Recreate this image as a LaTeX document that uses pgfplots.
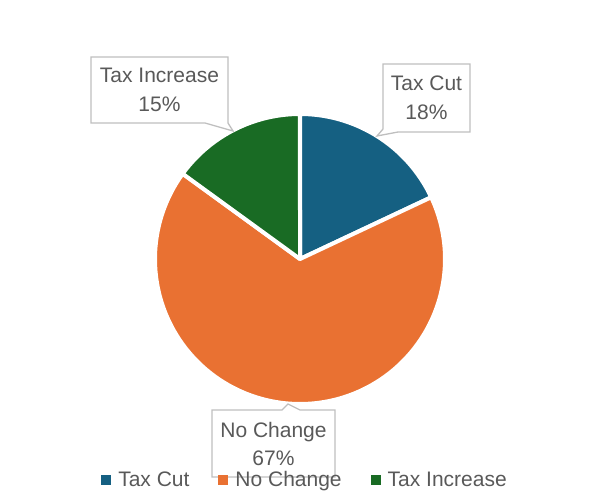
\documentclass[border=0pt]{standalone}
\usepackage{pgfplots}
\pgfplotsset{compat=1.18}
\usepackage{pgfplotstable}
\usepackage{fontspec}
\setmainfont{Liberation Sans}
\definecolor{cutblue}{HTML}{156082}
\definecolor{nochg}{HTML}{E97132}
\definecolor{incgreen}{HTML}{196B24}
\definecolor{txt}{HTML}{595959}
\definecolor{boxline}{HTML}{BFBFBF}

\pgfplotstableread{
label value
TaxCut 18
NoChange 67
TaxIncrease 15
}\piedata

\begin{document}
\begin{tikzpicture}
\pgfplotstablegetelem{0}{value}\of\piedata \pgfmathsetmacro\vA{\pgfplotsretval}
\pgfplotstablegetelem{1}{value}\of\piedata \pgfmathsetmacro\vB{\pgfplotsretval}
\pgfplotstablegetelem{2}{value}\of\piedata \pgfmathsetmacro\vC{\pgfplotsretval}
\pgfmathsetmacro\tot{\vA+\vB+\vC}
\pgfmathsetmacro\aZero{90}
\pgfmathsetmacro\aOne{90-\vA/\tot*360}
\pgfmathsetmacro\aTwo{\aOne-\vB/\tot*360}
\pgfmathsetmacro\aThree{\aTwo-\vC/\tot*360}
\def\R{145}
\begin{axis}[
  x=1pt, y=1pt,
  xmin=-300, xmax=295, ymin=-232, ymax=259,
  hide axis, clip=false,
  legend image code/.code={\fill[#1,draw=none] (0pt,-5pt) rectangle (10pt,5pt);},
  legend columns=3,
  legend style={draw=none, fill=none, font=\fontsize{21}{24}\selectfont, text=txt,
    at={(axis cs:5,-221)}, anchor=center, inner sep=0pt,
    /tikz/every even column/.append style={column sep=27pt},
    /tikz/every odd column/.append style={column sep=5pt}},
]
\addplot[fill=cutblue, draw=white, line width=4pt, line join=round,
  domain=\aOne:\aZero, samples=90, variable=\t]
  ({\R*cos(\t)},{\R*sin(\t)}) -- (0,0) -- cycle;
\addlegendentry{Tax Cut}
\addplot[fill=nochg, draw=white, line width=4pt, line join=round,
  domain=\aTwo:\aOne, samples=200, variable=\t]
  ({\R*cos(\t)},{\R*sin(\t)}) -- (0,0) -- cycle;
\addlegendentry{No Change}
\addplot[fill=incgreen, draw=white, line width=4pt, line join=round,
  domain=\aThree:\aTwo, samples=80, variable=\t]
  ({\R*cos(\t)},{\R*sin(\t)}) -- (0,0) -- cycle;
\addlegendentry{Tax Increase}

% callouts
\draw[boxline, line width=1.3pt, fill=white, line join=miter]
  (-209,202) -- (-72,202) -- (-72,136) -- (-67,128) -- (-95,136) -- (-209,136) -- cycle;
\node[align=center, text=txt, font=\fontsize{21}{29}\selectfont] at (-140.5,169) {Tax Increase\\15\%};

\draw[boxline, line width=1.3pt, fill=white, line join=miter]
  (83,195) -- (170,195) -- (170,127) -- (98,127) -- (77,123) -- (83,130) -- cycle;
\node[align=center, text=txt, font=\fontsize{21}{29}\selectfont] at (126.5,161) {Tax Cut\\18\%};

\draw[boxline, line width=1.3pt, fill=white, line join=miter]
  (-88,-151) -- (-18,-151) -- (-12,-145) -- (0,-151) -- (35,-151) -- (35,-218) -- (-88,-218) -- cycle;
\node[align=center, text=txt, font=\fontsize{21}{28}\selectfont] at (-26.5,-184.5) {No Change\\67\%};

\coordinate (bl) at (axis cs:-300,-232);
\coordinate (tr) at (axis cs:295,259);
\end{axis}
\pgfresetboundingbox
\useasboundingbox (bl) rectangle (tr);
\end{tikzpicture}
\end{document}
